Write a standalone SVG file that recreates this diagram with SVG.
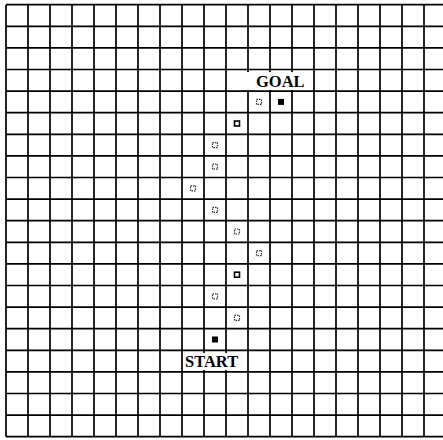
<svg xmlns="http://www.w3.org/2000/svg" width="443" height="440" viewBox="0 0 443 440">
<style>
.grid{stroke:#000;stroke-width:1.7;fill:none}
.fill{fill:#000}
.dot{fill:#fff;stroke:#333;stroke-width:1.2;stroke-dasharray:1.5 1}
.box{fill:#fff;stroke:#000;stroke-width:1.6}
.lbl{font-family:"Liberation Serif","Times New Roman",serif;font-weight:bold;font-size:16.5px;fill:#000}
</style>
<rect width="443" height="440" fill="#fff"/>
<g id="grid" class="grid">
<path d="M6 4.7V436.7M28 4.7V436.7M50 4.7V436.7M72 4.7V436.7M94 4.7V436.7M116 4.7V436.7M138 4.7V436.7M160 4.7V436.7M182 4.7V436.7M204 4.7V436.7M226 4.7V436.7M248 4.7V436.7M270 4.7V436.7M292 4.7V436.7M314 4.7V436.7M336 4.7V436.7M358 4.7V436.7M380 4.7V436.7M402 4.7V436.7M424 4.7V436.7"/>
<path d="M6 4.7H443M6 26.3H443M6 47.9H443M6 69.5H443M6 91.1H443M6 112.7H443M6 134.3H443M6 155.9H443M6 177.5H443M6 199.1H443M6 220.7H443M6 242.3H443M6 263.9H443M6 285.5H443M6 307.1H443M6 328.7H443M6 350.3H443M6 371.9H443M6 393.5H443M6 415.1H443M6 436.7H443"/>
</g>
<g id="goal">
<rect x="246" y="72" width="60" height="18" fill="#fff"/>
<text class="lbl" x="256" y="86.7">GOAL</text>
<rect class="fill" x="278" y="98.9" width="6" height="6"/>
</g>
<g id="start">
<rect x="184" y="353" width="60" height="17" fill="#fff"/>
<text class="lbl" x="185" y="366.7">START</text>
<rect class="fill" x="212" y="336.5" width="6" height="6"/>
</g>
<g id="path">
<rect class="dot" x="256.5" y="99.4" width="5" height="5"/>
<rect class="box" x="234.5" y="121" width="5" height="5"/>
<rect class="dot" x="212.5" y="142.6" width="5" height="5"/>
<rect class="dot" x="212.5" y="164.2" width="5" height="5"/>
<rect class="dot" x="190.5" y="185.8" width="5" height="5"/>
<rect class="dot" x="212.5" y="207.4" width="5" height="5"/>
<rect class="dot" x="234.5" y="229" width="5" height="5"/>
<rect class="dot" x="256.5" y="250.6" width="5" height="5"/>
<rect class="box" x="234.5" y="272.2" width="5" height="5"/>
<rect class="dot" x="212.5" y="293.8" width="5" height="5"/>
<rect class="dot" x="234.5" y="315.4" width="5" height="5"/>
</g>
</svg>
